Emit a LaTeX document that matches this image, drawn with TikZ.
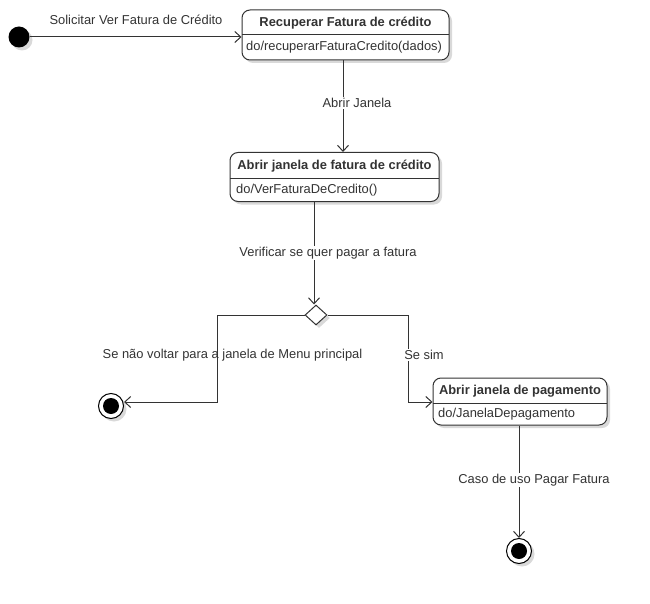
\documentclass[tikz,border=0pt]{standalone}
\usepackage{fontspec}
\setmainfont{Liberation Sans}
\usetikzlibrary{arrows.meta,shadows}
\definecolor{ln}{HTML}{333333}
\tikzset{
  base/.style={font=\fontsize{12.9}{14}\selectfont, text=ln, inner sep=1pt},
  statebox/.style={draw=ln, line width=1pt, rounded corners=8pt, fill=white, inner sep=0pt,
     drop shadow={shadow xshift=3pt, shadow yshift=-3pt, fill=black!15, opacity=1}},
  ttl/.style={base, font=\fontsize{12.9}{14}\selectfont\bfseries},
  body/.style={base, anchor=west},
  lbl/.style={base, fill=white},
  lblnf/.style={base},
  conn/.style={draw=ln, line width=1pt, -{Straight Barb[length=6pt,width=11pt]}},
  startst/.style={circle, fill=black, minimum size=21pt, inner sep=0pt,
     drop shadow={shadow xshift=3pt, shadow yshift=-3pt, fill=black!15, opacity=1}},
  endst/.style={circle, draw=black, line width=1pt, fill=white, minimum size=25pt, inner sep=0pt,
     drop shadow={shadow xshift=3pt, shadow yshift=-3pt, fill=black!15, opacity=1}},
  endin/.style={circle, fill=black, minimum size=16pt, inner sep=0pt},
  choice/.style={draw=ln, line width=1pt, fill=white, shape=diamond, inner sep=0pt,
     minimum width=22pt, minimum height=20pt, aspect=1.1,
     drop shadow={shadow xshift=3pt, shadow yshift=-3pt, fill=black!15, opacity=1}},
}
\usetikzlibrary{shapes.geometric}
\begin{document}
\begin{tikzpicture}[x=1pt,y=-1pt]
\useasboundingbox (0,0) rectangle (650,604);
% start
\node[startst] (start) at (19,37) {};
% box 1
\node[statebox, minimum width=207pt, minimum height=50pt] (b1) at (345.5,35) {};
\draw[ln, line width=1pt] (242,35) -- (449,35);
\node[ttl] (b1t) at (345.5,23) {Recuperar Fatura de crédito};
\node[body] (b1b) at (245,47) {do/recuperarFaturaCredito(dados)};
% box 2
\node[statebox, minimum width=209pt, minimum height=49pt] (b2) at (334.5,177) {};
\draw[ln, line width=1pt] (230,179) -- (439,179);
\node[ttl] (b2t) at (334.5,166) {Abrir janela de fatura de crédito};
\node[body] (b2b) at (235,190) {do/VerFaturaDeCredito()};
% decision
\node[choice] (d) at (316,315) {};
% box 3
\node[statebox, minimum width=174pt, minimum height=47pt] (b3) at (520,401.5) {};
\draw[ln, line width=1pt] (433,403) -- (607,403);
\node[ttl] (b3t) at (520,391) {Abrir janela de pagamento};
\node[body] (b3b) at (437,414) {do/JanelaDepagamento};
% final states
\node[endst] (f1) at (111,406) {};
\node[endin] at (f1) {};
\node[endst] (f2) at (519,551) {};
\node[endin] at (f2) {};
% connectors
\draw[conn] (start) -- (b1.west |- start);
\draw[conn] (b1.south -| 343,0) -- (b2.north -| 343,0);
\draw[conn] (b2.south -| 314,0) -- (d.north -| 314,0);
\coordinate (l1) at (217,315);
\coordinate (l2) at (217,402);
\draw[conn] (d.west) -- (l1) -- (l2) -- (f1.east |- l2);
\coordinate (r1) at (408,315);
\coordinate (r2) at (408,402);
\draw[conn] (d.east) -- (r1) -- (r2) -- (b3.west |- r2);
\draw[conn] (b3.south -| 519,0) -- (f2.north);
% labels
\node[lblnf] (t1) at (136,20) {Solicitar Ver Fatura de Crédito};
\node[lbl] (t2) at (357,103) {Abrir Janela};
\node[lbl] (t3) at (328,253) {Verificar se quer pagar a fatura};
\node[lblnf] (t4) at (232.5,355) {Se não voltar para a janela de Menu principal};
\node[lbl] (t5) at (424,355) {Se sim};
\node[lbl] (t6) at (534,480) {Caso de uso Pagar Fatura};
\end{tikzpicture}
\end{document}
